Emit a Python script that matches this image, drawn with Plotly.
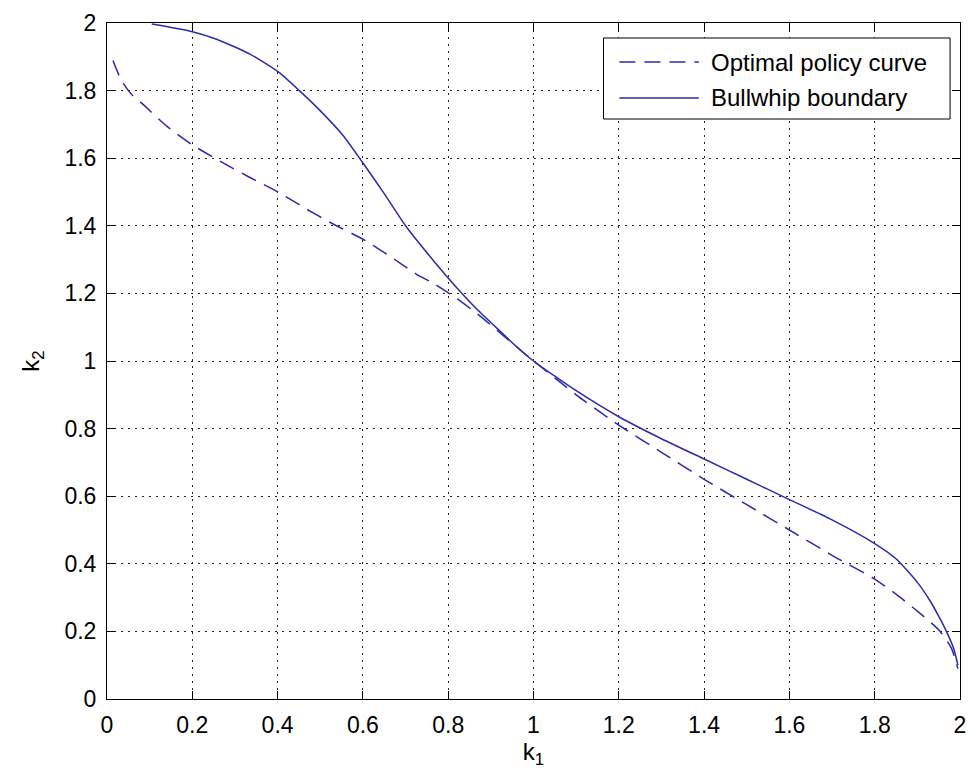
import plotly.graph_objects as go

# Optimal policy curve (dashed)
opt_k1 = [0.014, 0.031, 0.047, 0.062, 0.082, 0.14, 0.198, 0.268, 0.335, 0.401, 0.467, 0.529, 0.599,
          0.661, 0.724, 0.77, 0.82, 0.87, 0.92, 0.96, 1.0, 1.05, 1.1, 1.2, 1.3, 1.4, 1.5,
          1.6, 1.7, 1.8, 1.85, 1.9, 1.95, 1.98, 1.995]
opt_k2 = [1.889, 1.837, 1.805, 1.783, 1.762, 1.695, 1.641, 1.589, 1.543, 1.50, 1.45, 1.406, 1.361,
          1.312, 1.258, 1.226, 1.185, 1.138, 1.085, 1.042, 1.0, 0.95, 0.90, 0.81, 0.73, 0.65, 0.575,
          0.50, 0.425, 0.355, 0.31, 0.26, 0.205, 0.15, 0.09]

# Bullwhip boundary (solid)
bw_k1 = [0.105, 0.198, 0.257, 0.335, 0.401, 0.451, 0.498, 0.553, 0.599, 0.65, 0.70, 0.77,
         0.82, 0.87, 0.92, 0.96, 1.0, 1.05, 1.1, 1.2, 1.3, 1.4, 1.5, 1.6, 1.7, 1.8, 1.85,
         1.9, 1.93, 1.95, 1.97, 1.985, 1.995]
bw_k2 = [1.997, 1.975, 1.952, 1.908, 1.856, 1.80, 1.743, 1.668, 1.588, 1.495, 1.40, 1.29,
         1.217, 1.15, 1.09, 1.043, 1.0, 0.955, 0.912, 0.835, 0.77, 0.71, 0.65, 0.59, 0.53, 0.46, 0.415,
         0.345, 0.29, 0.245, 0.195, 0.15, 0.10]

x_ticks = [0, 0.2, 0.4, 0.6, 0.8, 1, 1.2, 1.4, 1.6, 1.8, 2]
y_ticks = [0, 0.2, 0.4, 0.6, 0.8, 1, 1.2, 1.4, 1.6, 1.8, 2]
legend_labels = ["Optimal policy curve", "Bullwhip boundary"]

LINE_COLOR = "#2b2bab"
FONT = "Arial, Liberation Sans, Helvetica, sans-serif"

fig = go.Figure()
fig.add_trace(go.Scatter(x=opt_k1, y=opt_k2, mode="lines", name=legend_labels[0],
                         line=dict(color=LINE_COLOR, width=1.5, dash="16px,9px",
                                   shape="spline", smoothing=0.6)))
fig.add_trace(go.Scatter(x=bw_k1, y=bw_k2, mode="lines", name=legend_labels[1],
                         line=dict(color=LINE_COLOR, width=1.5, shape="spline", smoothing=0.6)))

axis_common = dict(
    range=[0, 2], showline=True, linecolor="black", linewidth=1, mirror="allticks",
    ticks="inside", ticklen=8, tickcolor="black", tickwidth=1,
    showgrid=True, gridcolor="#222", griddash="2px,5px", gridwidth=1,
    zeroline=False, tickfont=dict(size=23, color="black", family=FONT),
)

fig.update_xaxes(**axis_common, tickvals=x_ticks, ticktext=[f"{v:g}" for v in x_ticks],
                 ticklabelstandoff=5,
                 title=dict(text="k<sub>1</sub>", font=dict(size=24, color="black", family=FONT),
                            standoff=2))
fig.update_yaxes(**axis_common, tickvals=y_ticks, ticktext=[f"{v:g}" for v in y_ticks],
                 ticklabelstandoff=5,
                 title=dict(text="k<sub>2</sub>", font=dict(size=24, color="black", family=FONT),
                            standoff=18))

# Legend drawn as box + samples + text (paper coords)
x0p, x1p = 500/859, 849/859
y_top, y_bot = 1 - 15/676, 1 - 96/676
shapes = [dict(type="rect", xref="paper", yref="paper", x0=x0p, x1=x1p, y0=y_bot, y1=y_top,
               line=dict(color="black", width=1), fillcolor="white", layer="above")]
rows = [1 - 39/676, 1 - 75/676]
for i, yy in enumerate(rows):
    shapes.append(dict(type="line", xref="paper", yref="paper", x0=516/859, x1=596/859,
                       y0=yy, y1=yy, layer="above",
                       line=dict(color=LINE_COLOR, width=1.5,
                                 dash="16px,9px" if i == 0 else "solid")))
annotations = [dict(text=legend_labels[i], xref="paper", yref="paper", x=606/859, y=rows[i],
                    xanchor="left", yanchor="middle", showarrow=False,
                    font=dict(size=24, color="black", family=FONT)) for i in range(2)]

fig.update_layout(
    width=975, height=781, showlegend=False,
    margin=dict(l=107, r=9, t=23, b=82),
    plot_bgcolor="white", paper_bgcolor="white",
    shapes=shapes, annotations=annotations,
    font=dict(family=FONT, color="black"),
)

fig.write_html("out.html", config={"displayModeBar": False},
               post_script="document.body.style.margin='0';document.body.style.padding='0';"
                           "document.body.style.overflow='hidden';")
